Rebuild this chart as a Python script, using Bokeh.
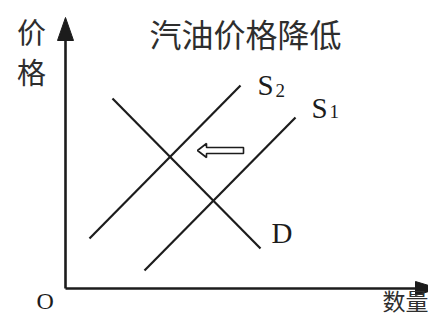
from bokeh.plotting import figure
from bokeh.models import Range1d
from bokeh.core.properties import value
from bokeh.embed import file_html
from bokeh.resources import INLINE

# ---- data (diagram coordinates: origin at axis intersection, y upward) ----
title_text = "汽油价格降低"
y_label = ["价", "格"]
x_label = "数量"
origin_label = "O"

d_x = [47, 195]
d_y = [190, 40]
s2_x = [24, 175]
s2_y = [50, 203]
s1_x = [79, 230]
s1_y = [18, 171]

x_axis_end = 373
y_axis_end = 271

# ---- helpers: reference pixel -> diagram coordinate ----
OX, OY = 65, 288
def X(sx):
    return sx - OX
def Y(sy):
    return OY - sy

W, H = 428, 315
p = figure(width=W, height=H, output_backend="svg", toolbar_location=None,
           x_range=Range1d(X(0), X(W)), y_range=Range1d(Y(H), Y(0)),
           min_border=0)
p.axis.visible = False
p.grid.visible = False
p.outline_line_color = None
p.background_fill_color = "white"

ink = "#1c1c1c"
txt = "#2e2e2e"

# axes
p.line([0, 0], [0, y_axis_end - 20], line_color=ink, line_width=2.6)
p.line([0, x_axis_end - 20], [0, 0], line_color=ink, line_width=2.6)
p.patch([-8, 0, 8], [y_axis_end - 23, y_axis_end, y_axis_end - 23], color=ink)
p.patch([x_axis_end - 23, x_axis_end, x_axis_end - 23], [7, 0, -7], color=ink)

# curves
for xs, ys in [(d_x, d_y), (s2_x, s2_y), (s1_x, s1_y)]:
    p.line(xs, ys, line_color=ink, line_width=2.2)

# hollow shift arrow
ax = [X(197), X(206), X(206), X(243), X(243), X(206), X(206)]
ay = [Y(150), Y(143), Y(147), Y(147), Y(153), Y(153), Y(157)]
p.patch(ax, ay, fill_color="white", line_color=ink, line_width=1.6)

cjk = value("Noto Sans CJK SC")
serif = value("Liberation Serif")

# title
p.text([X(245)], [Y(32)], text=[title_text], text_font=cjk, text_font_size="32px",
       text_align="center", text_baseline="middle", text_color=txt)
# y label
p.text([X(31), X(31)], [Y(30), Y(70)], text=y_label, text_font=cjk,
       text_font_size="29px", text_align="center", text_baseline="middle", text_color=txt)
# x label
p.text([X(382)], [Y(299)], text=[x_label], text_font=cjk, text_font_size="23px",
       text_align="left", text_baseline="middle", text_color=txt)
# origin
p.text([X(36)], [Y(300)], text=[origin_label], text_font=serif, text_font_size="24px",
       text_align="left", text_baseline="middle", text_color=ink)

# curve labels
p.text([X(257), X(311), X(271)], [Y(84), Y(107), Y(232)], text=["S", "S", "D"],
       text_font=serif, text_font_size="29px", text_align="left",
       text_baseline="middle", text_color=ink)
p.text([X(275), X(329)], [Y(90), Y(111)], text=["2", "1"],
       text_font=serif, text_font_size="19px", text_align="left",
       text_baseline="middle", text_color=ink)

open("out.html", "w").write(file_html(p, INLINE))
